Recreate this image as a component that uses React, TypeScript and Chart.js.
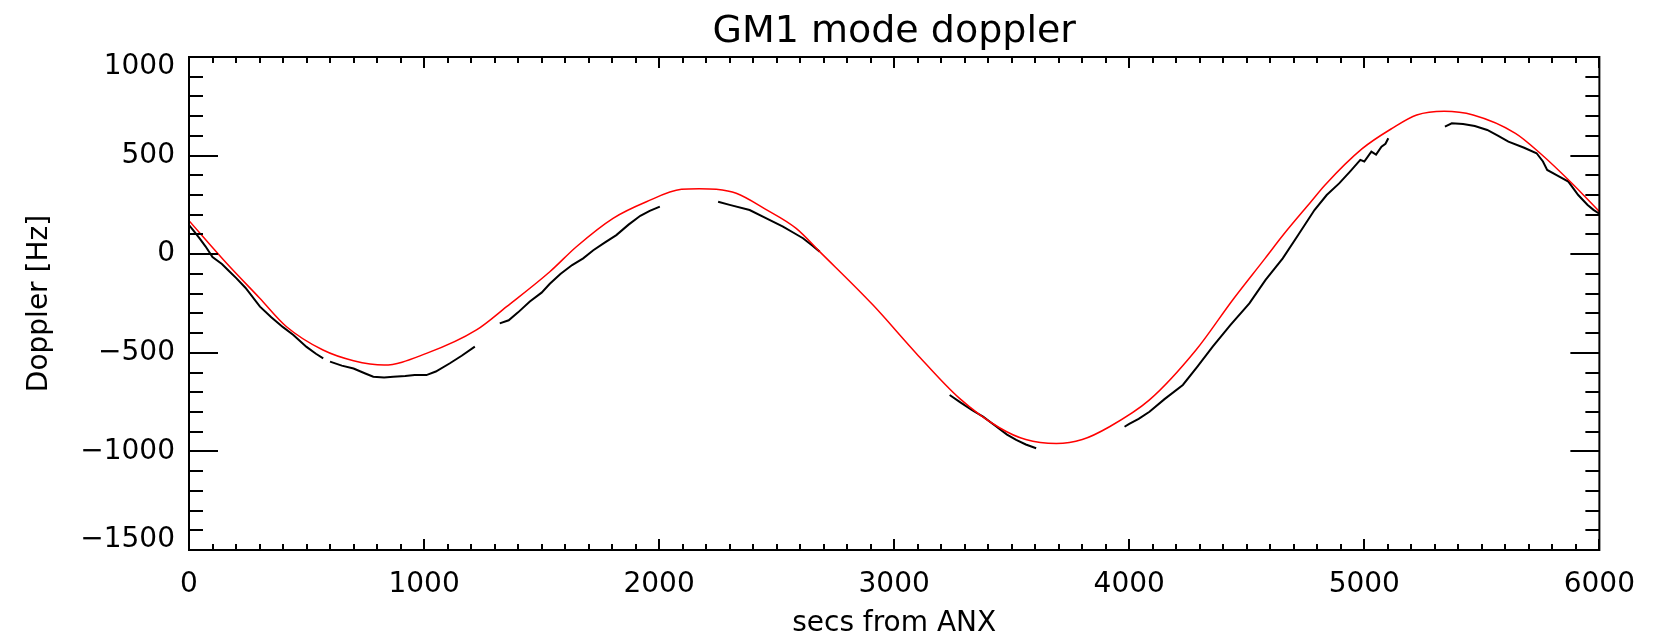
import React, { useEffect, useRef } from 'react';
import { Chart, registerables } from 'chart.js';

Chart.register(...registerables);

// ---- axis ranges & ticks ----
const xRange = [0, 6000];
const yRange = [-1500, 1000];
const xMajorStep = 1000;
const xMinorStep = 100;
const yMajorStep = 500;
const yMinorStep = 100;

const titleText = 'GM1 mode doppler';
const xTitle = 'secs from ANX';
const yTitle = 'Doppler [Hz]';

// ---- model doppler (red) ----
const modelTime = [0, 160, 300, 415, 570, 700, 830, 1010, 1223, 1351, 1535, 1648, 1804, 1946, 2095, 2170, 2243, 2328, 2450, 2583, 2683, 2910, 3094, 3278, 3448, 3560, 3690, 3800, 3916, 4086, 4284, 4440, 4578, 4653, 4773, 4833, 4991, 5118, 5223, 5340, 5463, 5643, 5748, 5883, 6000];
const modelDoppler = [170, -46, -222, -368, -486, -540, -562, -503, -384, -266, -89, 38, 182, 266, 329, 332, 329, 309, 230, 131, 13, -258, -503, -731, -880, -940, -960, -940, -875, -739, -486, -232, -21, 95, 266, 351, 535, 638, 706, 725, 706, 613, 512, 360, 216];

// ---- measured doppler (black), segments ----
const seg1Time = [0, 20, 45, 70, 100, 140, 170, 200, 240, 302, 350, 400, 444, 500, 540, 571];
const seg1Doppler = [148, 118, 80, 40, -15, -50, -85, -120, -170, -266, -320, -370, -410, -470, -505, -528];
const seg2Time = [600, 650, 700, 750, 784, 830, 869, 920, 960, 1010, 1050, 1110, 1160, 1216];
const seg2Doppler = [-545, -565, -580, -605, -621, -625, -621, -618, -612, -613, -595, -553, -515, -469];
const seg3Time = [1322, 1360, 1400, 1450, 1500, 1535, 1580, 1630, 1677, 1720, 1770, 1818, 1870, 1920, 1960, 2003];
const seg3Doppler = [-351, -335, -295, -240, -195, -150, -100, -55, -21, 20, 60, 97, 150, 195, 220, 241];
const seg4Time = [2251, 2300, 2385, 2450, 2527, 2570, 2612, 2650, 2683];
const seg4Doppler = [266, 250, 224, 185, 140, 110, 81, 45, 13];
const seg5Time = [3236, 3280, 3330, 3378, 3430, 3480, 3519, 3560, 3604];
const seg5Doppler = [-714, -750, -790, -824, -870, -915, -942, -965, -984];
const seg6Time = [3980, 4000, 4040, 4086, 4150, 4228, 4290, 4355, 4430, 4511, 4580, 4653, 4720, 4788, 4840, 4893, 4940, 4983, 5000, 5030, 5050, 5073, 5090, 5102];
const seg6Doppler = [-875, -860, -835, -799, -735, -663, -570, -469, -360, -249, -130, -21, 100, 224, 300, 359, 420, 478, 470, 520, 505, 545, 560, 588];
const seg7Time = [5343, 5372, 5420, 5470, 5523, 5570, 5613, 5680, 5733, 5760, 5778, 5820, 5868, 5910, 5950, 5975, 6000];
const seg7Doppler = [647, 664, 660, 650, 630, 600, 571, 540, 512, 470, 427, 400, 368, 300, 250, 225, 205];

const segments: [number[], number[]][] = [
  [seg1Time, seg1Doppler],
  [seg2Time, seg2Doppler],
  [seg3Time, seg3Doppler],
  [seg4Time, seg4Doppler],
  [seg5Time, seg5Doppler],
  [seg6Time, seg6Doppler],
  [seg7Time, seg7Doppler],
];

const FONT = '"DejaVu Sans", sans-serif';

const fmt = (v: number) => (v < 0 ? '\u2212' + String(-v) : String(v));

const frameTicks = {
  id: 'frameTicks',
  afterDraw(chart: any) {
    const { ctx, chartArea: a, scales } = chart;
    const x = scales.x;
    const y = scales.y;
    ctx.save();
    ctx.strokeStyle = '#000';
    ctx.lineWidth = 2;
    ctx.strokeRect(a.left, a.top, a.right - a.left, a.bottom - a.top);
    ctx.beginPath();
    for (let v = xRange[0]; v <= xRange[1]; v += xMinorStep) {
      const px = Math.round(x.getPixelForValue(v));
      const len = v % xMajorStep === 0 ? 11 : 6;
      ctx.moveTo(px, a.bottom);
      ctx.lineTo(px, a.bottom - len);
      ctx.moveTo(px, a.top);
      ctx.lineTo(px, a.top + len);
    }
    for (let v = yRange[0]; v <= yRange[1]; v += yMinorStep) {
      const py = Math.round(y.getPixelForValue(v));
      const len = v % yMajorStep === 0 ? 29 : 14;
      ctx.moveTo(a.left, py);
      ctx.lineTo(a.left + len, py);
      ctx.moveTo(a.right, py);
      ctx.lineTo(a.right - len, py);
    }
    ctx.stroke();
    ctx.restore();
  },
};

export default function App() {
  const ref = useRef<HTMLCanvasElement | null>(null);

  useEffect(() => {
    if (!ref.current) return;
    const datasets: any[] = [
      {
        label: 'model',
        data: modelTime.map((t, i) => ({ x: t, y: modelDoppler[i] })),
        borderColor: '#ff0000',
        borderWidth: 1.5,
        pointRadius: 0,
        showLine: true,
        cubicInterpolationMode: 'monotone',
      },
      ...segments.map(([ts, vs], k) => ({
        label: 'measured ' + (k + 1),
        data: ts.map((t, i) => ({ x: t, y: vs[i] })),
        borderColor: '#000000',
        borderWidth: 2,
        pointRadius: 0,
        showLine: true,
        tension: 0,
      })),
    ];

    const chart = new Chart(ref.current, {
      type: 'scatter',
      data: { datasets },
      options: {
        animation: false,
        responsive: false,
        maintainAspectRatio: false,
        devicePixelRatio: 1,
        layout: { padding: { top: 0, left: 0, right: 53, bottom: 0 } },
        plugins: {
          legend: { display: false },
          tooltip: { enabled: false },
          title: {
            display: true,
            fullSize: false,
            text: titleText,
            color: '#000',
            font: { family: FONT, size: 38, weight: 'normal', lineHeight: 1 },
            padding: { top: 13, bottom: 6 },
          },
        },
        scales: {
          x: {
            type: 'linear',
            min: xRange[0],
            max: xRange[1],
            grid: { display: false, drawTicks: false },
            border: { display: false },
            ticks: {
              stepSize: xMajorStep,
              autoSkip: false,
              maxRotation: 0,
              padding: 18,
              color: '#000',
              font: { family: FONT, size: 28, lineHeight: 1.2 },
              callback: (v: any) => fmt(Number(v)),
            },
            title: {
              display: true,
              text: xTitle,
              color: '#000',
              font: { family: FONT, size: 28, lineHeight: 1.2 },
              padding: { top: 0, bottom: 1 },
            },
            afterFit: (s: any) => {
              s.height = 92;
            },
          },
          y: {
            type: 'linear',
            min: yRange[0],
            max: yRange[1],
            grid: { display: false, drawTicks: false },
            border: { display: false },
            ticks: {
              stepSize: yMajorStep,
              autoSkip: false,
              padding: 14,
              color: '#000',
              font: { family: FONT, size: 28, lineHeight: '20px' },
              callback: (v: any) => {
                const n = Number(v);
                if (n === yRange[1]) return ['', fmt(n)];
                if (n === yRange[0]) return [fmt(n), ''];
                return fmt(n);
              },
            },
            title: {
              display: true,
              text: yTitle,
              color: '#000',
              font: { family: FONT, size: 28, lineHeight: 1.2 },
              padding: { top: 23, bottom: 0 },
            },
            afterFit: (s: any) => {
              s.width = 189;
            },
          },
        },
      },
      plugins: [frameTicks],
    });
    return () => chart.destroy();
  }, []);

  return (
    <div style={{ position: 'absolute', left: 0, top: 0, width: 1653, height: 642, background: '#fff' }}>
      <canvas ref={ref} width={1653} height={642} style={{ width: 1653, height: 642, display: 'block' }} />
    </div>
  );
}
